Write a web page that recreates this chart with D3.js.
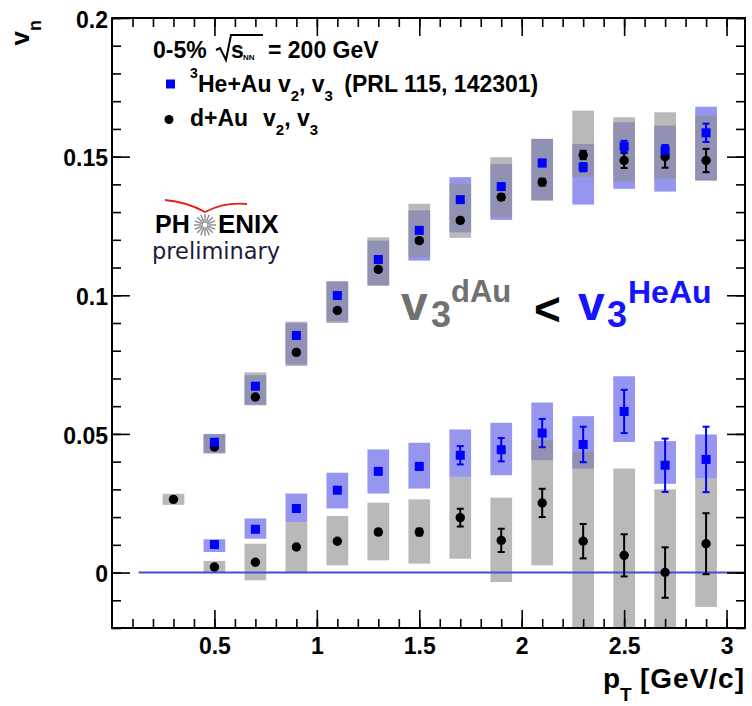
<!DOCTYPE html>
<html><head><meta charset="utf-8">
<script src="https://cdn.jsdelivr.net/npm/d3@7"></script>
<style>
body{margin:0;background:#fff}
svg{display:block}
</style>
</head><body>
<svg id="c" width="752" height="706" font-family="Liberation Sans, Arial, sans-serif" font-weight="bold"></svg>
<script>
// ---------- data ----------
const ptD = [0.3,0.5,0.7,0.9,1.1,1.3,1.5,1.7,1.9,2.1,2.3,2.5,2.7,2.9];
const dAuV2     = [0.0264,0.0453,0.0633,0.0794,0.0945,0.1093,0.1197,0.1270,0.1354,0.1408,0.1506,0.1486,0.1500,0.1486];
const dAuV2Stat = [0.0005,0.0005,0.0005,0.0005,0.0006,0.0007,0.0008,0.0009,0.0010,0.0012,0.0015,0.0027,0.0040,0.0042];
const dAuV2SysLo= [0.0244,0.0429,0.0603,0.0745,0.0900,0.1035,0.1137,0.1207,0.1281,0.1342,0.1426,0.1410,0.1420,0.1414];
const dAuV2SysHi= [0.0284,0.0497,0.0722,0.0905,0.1050,0.1209,0.1330,0.1402,0.1498,0.1564,0.1666,0.1642,0.1660,0.1648];

const ptH = [0.5,0.7,0.9,1.1,1.3,1.5,1.7,1.9,2.1,2.3,2.5,2.7,2.9];
const heAuV2     = [0.0470,0.0672,0.0855,0.0999,0.1129,0.1234,0.1345,0.1392,0.1477,0.1462,0.1537,0.1522,0.1586];
const heAuV2Stat = [0.0005,0.0005,0.0005,0.0006,0.0007,0.0008,0.0009,0.0010,0.0012,0.0015,0.0020,0.0020,0.0033];
const heAuV2SysLo= [0.0432,0.0605,0.0750,0.0905,0.1035,0.1125,0.1227,0.1272,0.1342,0.1327,0.1384,0.1374,0.1414];
const heAuV2SysHi= [0.0500,0.0712,0.0900,0.1050,0.1197,0.1306,0.1426,0.1474,0.1564,0.1546,0.1624,0.1612,0.1680];

const dAuV3     = [0.0020,0.0037,0.0092,0.0113,0.0146,0.0146,0.0198,0.0116,0.0251,0.0113,0.0062,0.0000,0.0104];
const dAuV3Stat = [0.0005,0.0005,0.0006,0.0007,0.0009,0.0012,0.0032,0.0042,0.0051,0.0062,0.0076,0.0091,0.0110];
const dAuV3SysLo= [0.0000,-0.0028,0.0000,0.0026,0.0044,0.0032,0.0050,-0.0034,0.0026,-0.0210,-0.0250,-0.0300,-0.0124];
const dAuV3SysHi= [0.0042,0.0104,0.0182,0.0204,0.0252,0.0264,0.0345,0.0270,0.0477,0.0435,0.0375,0.0300,0.0339];

const heAuV3     = [0.0101,0.0156,0.0231,0.0297,0.0365,0.0383,0.0423,0.0443,0.0503,0.0462,0.0581,0.0387,0.0408];
const heAuV3Stat = [0.0005,0.0005,0.0006,0.0007,0.0009,0.0012,0.0033,0.0042,0.0051,0.0064,0.0078,0.0096,0.0118];
const heAuV3SysLo= [0.0074,0.0122,0.0182,0.0231,0.0285,0.0303,0.0345,0.0351,0.0405,0.0375,0.0471,0.0320,0.0339];
const heAuV3SysHi= [0.0120,0.0195,0.0285,0.0360,0.0444,0.0468,0.0516,0.0540,0.0613,0.0564,0.0708,0.0474,0.0498];

const yTickValues = [0,0.05,0.1,0.15,0.2];
const yTickLabels = ["0","0.05","0.1","0.15","0.2"];
const xTickValues = [0.5,1,1.5,2,2.5,3];
const xTickLabels = ["0.5","1","1.5","2","2.5","3"];
const boxHalf = 0.053;

// ---------- setup ----------
const L = 112, R = 745, T = 18, B = 628;
const svg = d3.select("#c");
const x = d3.scaleLinear().domain([0, 3.09]).range([L, R]);
const y = d3.scaleLinear().domain([-0.02, 0.2]).range([B, T]);

svg.append("defs").append("clipPath").attr("id","clip")
  .append("rect").attr("x",L).attr("y",T).attr("width",R-L).attr("height",B-T);
const plot = svg.append("g").attr("clip-path","url(#clip)");

function zipSeries(px, v, st, lo, hi){ return px.map((p,i)=>({p, v:v[i], s:st[i], lo:lo[i], hi:hi[i]})); }
const sDv2 = zipSeries(ptD, dAuV2, dAuV2Stat, dAuV2SysLo, dAuV2SysHi);
const sDv3 = zipSeries(ptH, dAuV3, dAuV3Stat, dAuV3SysLo, dAuV3SysHi);
const sHv2 = zipSeries(ptH, heAuV2, heAuV2Stat, heAuV2SysLo, heAuV2SysHi);
const sHv3 = zipSeries(ptH, heAuV3, heAuV3Stat, heAuV3SysLo, heAuV3SysHi);
const heAll = sHv2.concat(sHv3);
const dAll = sDv2.concat(sDv3);

// systematic boxes: blue first, gray translucent on top
plot.selectAll(".hbox").data(heAll).join("rect")
  .attr("x", d=>x(d.p-boxHalf)).attr("width", d=>x(d.p+boxHalf)-x(d.p-boxHalf))
  .attr("y", d=>y(d.hi)).attr("height", d=>y(d.lo)-y(d.hi))
  .attr("fill","#9696f0");
plot.selectAll(".dbox").data(dAll).join("rect")
  .attr("x", d=>x(d.p-boxHalf)).attr("width", d=>x(d.p+boxHalf)-x(d.p-boxHalf))
  .attr("y", d=>y(d.hi)).attr("height", d=>y(d.lo)-y(d.hi))
  .attr("fill","rgb(142,142,142)").attr("fill-opacity",0.62);

// zero line
plot.append("line").attr("x1",x(0.13)).attr("x2",x(3.09)).attr("y1",y(0)).attr("y2",y(0))
  .attr("stroke","#4b4bd0").attr("stroke-width",2);

// error bars
function errBars(data, color){
  const g = plot.append("g").attr("stroke",color).attr("stroke-width",2);
  g.selectAll(".v").data(data).join("line")
    .attr("x1",d=>x(d.p)).attr("x2",d=>x(d.p)).attr("y1",d=>y(d.v-d.s)).attr("y2",d=>y(d.v+d.s));
  g.selectAll(".c1").data(data).join("line")
    .attr("x1",d=>x(d.p)-3.5).attr("x2",d=>x(d.p)+3.5).attr("y1",d=>y(d.v-d.s)).attr("y2",d=>y(d.v-d.s));
  g.selectAll(".c2").data(data).join("line")
    .attr("x1",d=>x(d.p)-3.5).attr("x2",d=>x(d.p)+3.5).attr("y1",d=>y(d.v+d.s)).attr("y2",d=>y(d.v+d.s));
}
errBars(dAll, "#000");
errBars(heAll, "#0000ff");

// markers
plot.selectAll(".dm").data(dAll).join("circle")
  .attr("cx",d=>x(d.p)).attr("cy",d=>y(d.v)).attr("r",4.7).attr("fill","#000");
plot.selectAll(".hm").data(heAll).join("rect")
  .attr("x",d=>x(d.p)-4.5).attr("y",d=>y(d.v)-4.5).attr("width",9).attr("height",9).attr("fill","#0000ff");

// ---------- axes ----------
const yMinor = d3.range(-2, 21).map(i=>i/100);
const xMinor = d3.range(1, 31).map(i=>i/10);
function addAxis(gen, tr){
  const g = svg.append("g").attr("transform", tr).call(gen);
  g.select(".domain").remove();
  g.selectAll(".tick line").attr("stroke","#000").attr("stroke-width",1.6);
  g.attr("font-family","Liberation Sans, Arial, sans-serif").attr("font-weight","bold").attr("font-size",23);
  return g;
}
const fmtY = v => yTickLabels[yTickValues.indexOf(v)];
const fmtX = v => xTickLabels[xTickValues.indexOf(v)];
addAxis(d3.axisLeft(y).tickValues(yMinor).tickSize(-9).tickFormat(""), `translate(${L},0)`);
const gy = addAxis(d3.axisLeft(y).tickValues(yTickValues).tickSize(-18).tickPadding(4).tickFormat(fmtY), `translate(${L},0)`);
addAxis(d3.axisRight(y).tickValues(yMinor).tickSize(-9).tickFormat(""), `translate(${R},0)`);
addAxis(d3.axisRight(y).tickValues(yTickValues).tickSize(-18).tickFormat(""), `translate(${R},0)`);
addAxis(d3.axisBottom(x).tickValues(xMinor).tickSize(-9).tickFormat(""), `translate(0,${B})`);
const gx = addAxis(d3.axisBottom(x).tickValues(xTickValues).tickSize(-18).tickPadding(10).tickFormat(fmtX), `translate(0,${B})`);
addAxis(d3.axisTop(x).tickValues(xMinor).tickSize(-9).tickFormat(""), `translate(0,${T})`);
addAxis(d3.axisTop(x).tickValues(xTickValues).tickSize(-18).tickFormat(""), `translate(0,${T})`);
gy.selectAll("text").attr("dy","0.4em").attr("fill","#000");
gx.selectAll("text").attr("fill","#000");

// frame
svg.append("rect").attr("x",L).attr("y",T).attr("width",R-L).attr("height",B-T)
  .attr("fill","none").attr("stroke","#000").attr("stroke-width",2);

// axis titles
const yl = svg.append("text").attr("transform","translate(29,20) rotate(-90)").attr("text-anchor","end");
yl.append("tspan").attr("font-size",26).text("v");
yl.append("tspan").attr("font-size",18).attr("dy",12).text("n");

const xl = svg.append("g").attr("font-size",28);
xl.append("text").attr("x",603).attr("y",688).text("p");
xl.append("text").attr("x",620).attr("y",701).attr("font-size",19).text("T");
xl.append("text").attr("x",745).attr("y",688).attr("text-anchor","end").attr("letter-spacing",1).text("[GeV/c]");

// ---------- legend ----------
const lg = svg.append("g").attr("font-size",23);
lg.append("text").attr("x",153).attr("y",58).text("0-5%");
lg.append("path").attr("d","M216,50 L220,48 L226,60 L231,35 L263,35").attr("fill","none").attr("stroke","#000").attr("stroke-width",2);
lg.append("text").attr("x",231).attr("y",58).text("s");
lg.append("text").attr("x",243).attr("y",60).attr("font-size",8).text("NN");
lg.append("text").attr("x",268).attr("y",58).text("= 200 GeV");

lg.append("rect").attr("x",166).attr("y",79.5).attr("width",9).attr("height",9).attr("fill","#0000ff");
const l2 = lg.append("text").attr("x",190).attr("y",78);
l2.append("tspan").attr("font-size",14).text("3");
l2.append("tspan").attr("x",198).attr("dy",14).text("He+Au v");
l2.append("tspan").attr("font-size",15).attr("dy",9).text("2");
l2.append("tspan").attr("dy",-9).text(", v");
l2.append("tspan").attr("font-size",15).attr("dy",9).text("3");
l2.append("tspan").attr("dy",-9).attr("dx",5).text(" (PRL 115, 142301)");

lg.append("circle").attr("cx",169).attr("cy",119.5).attr("r",4.5).attr("fill","#000");
const l3 = lg.append("text").attr("x",190).attr("y",126);
l3.append("tspan").text("d+Au");
l3.append("tspan").attr("x",263).text("v");
l3.append("tspan").attr("font-size",15).attr("dy",9).text("2");
l3.append("tspan").attr("dy",-9).text(", v");
l3.append("tspan").attr("font-size",15).attr("dy",9).text("3");

// ---------- PHENIX logo ----------
const logo = svg.append("g");
logo.append("path").attr("d","M165,200 Q187,202 205,212 Q224,202 247,204")
  .attr("fill","none").attr("stroke","#e02020").attr("stroke-width",1.8);
logo.append("text").attr("x",155).attr("y",233).attr("font-size",25).text("PH");
logo.append("text").attr("x",218).attr("y",233).attr("font-size",26).text("ENIX");
const cx0 = 205, cy0 = 225;
logo.append("g").attr("stroke","#8a8a8a").attr("stroke-width",1.4)
  .selectAll("line").data(d3.range(16)).join("line")
  .attr("x1",i=>cx0+3.5*Math.cos(i*Math.PI/8)).attr("y1",i=>cy0+3.5*Math.sin(i*Math.PI/8))
  .attr("x2",i=>cx0+11*Math.cos(i*Math.PI/8)).attr("y2",i=>cy0+11*Math.sin(i*Math.PI/8));
logo.append("circle").attr("cx",cx0).attr("cy",cy0).attr("r",3).attr("fill","#fff").attr("stroke","#8a8a8a").attr("stroke-width",1);
logo.append("text").attr("x",152).attr("y",259).attr("font-size",22.5)
  .attr("font-family","DejaVu Sans, sans-serif").attr("font-weight","normal").attr("fill","#1c1c3a").text("preliminary");

// ---------- annotation ----------
const an = svg.append("g");
an.append("text").attr("x",401).attr("y",320).attr("font-size",48).attr("fill","#717171").text("v");
an.append("text").attr("x",431).attr("y",327).attr("font-size",36).attr("fill","#717171").text("3");
an.append("text").attr("x",451).attr("y",302).attr("font-size",31).attr("fill","#717171").text("dAu");
an.append("text").attr("x",534).attr("y",325).attr("font-size",46).attr("fill","#000").text("<");
an.append("text").attr("x",578).attr("y",320).attr("font-size",48).attr("fill","#1414ff").text("v");
an.append("text").attr("x",607).attr("y",327).attr("font-size",36).attr("fill","#1414ff").text("3");
an.append("text").attr("x",628).attr("y",303).attr("font-size",32).attr("fill","#1414ff").text("HeAu");
</script>
</body></html>
